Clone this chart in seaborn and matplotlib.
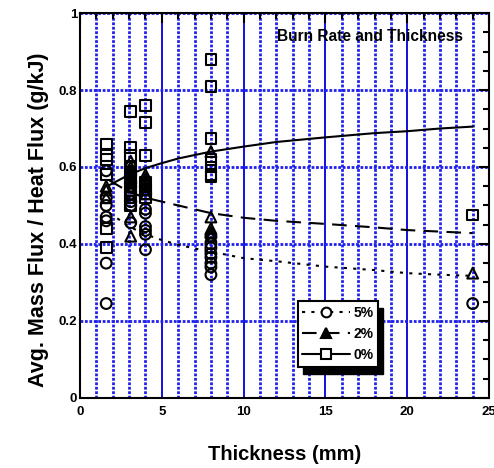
import numpy as np
import pandas as pd
import matplotlib
matplotlib.use("Agg")
import matplotlib.pyplot as plt
from matplotlib.lines import Line2D
from matplotlib.patches import Rectangle
import seaborn as sns

# Measured points (thickness in mm, avg mass flux / heat flux in g/kJ)
thick_5 = [1.6, 1.6, 1.6, 1.6, 1.6, 1.6, 1.6,
           3.1, 3.1, 3.1, 3.1, 3.1, 3.1, 3.1,
           4, 4, 4, 4, 4, 4,
           8, 8, 8, 8, 8, 8, 8, 8,
           24]
flux_5 = [0.59, 0.52, 0.50, 0.47, 0.46, 0.35, 0.245,
          0.58, 0.56, 0.55, 0.53, 0.51, 0.50, 0.455,
          0.49, 0.48, 0.445, 0.435, 0.425, 0.385,
          0.42, 0.40, 0.39, 0.375, 0.365, 0.35, 0.34, 0.32,
          0.245]

thick_2 = [1.6, 1.6, 1.6,
           3.1, 3.1, 3.1, 3.1, 3.1, 3.1, 3.1, 3.1, 3.1, 3.1,
           4, 4, 4, 4, 4, 4,
           8, 8, 8, 8, 8,
           24]
flux_2 = [0.55, 0.54, 0.52,
          0.615, 0.60, 0.59, 0.58, 0.57, 0.56, 0.55, 0.54, 0.47, 0.42,
          0.58, 0.57, 0.56, 0.55, 0.54, 0.53,
          0.64, 0.47, 0.44, 0.43, 0.42,
          0.324]

thick_0 = [1.6, 1.6, 1.6, 1.6, 1.6, 1.6,
           3.1, 3.1, 3.1, 3.1, 3.1, 3.1, 3.1, 3.1,
           4, 4, 4, 4, 4, 4, 4,
           8, 8, 8, 8, 8, 8, 8,
           24]
flux_0 = [0.66, 0.63, 0.62, 0.58, 0.44, 0.39,
          0.745, 0.65, 0.63, 0.60, 0.57, 0.55, 0.52, 0.50,
          0.76, 0.715, 0.63, 0.56, 0.54, 0.53, 0.52,
          0.88, 0.81, 0.675, 0.62, 0.60, 0.58, 0.575,
          0.475]

# Fitted curves
fit_x_5 = [1.8, 2.5, 3, 4, 5, 6, 7, 8, 10, 12, 15, 18, 20, 22, 24]
fit_y_5 = [0.48, 0.46, 0.445, 0.425, 0.41, 0.398, 0.388, 0.38, 0.363, 0.355, 0.341, 0.332, 0.324, 0.32, 0.317]
fit_x_2 = [1.8, 3, 4, 5, 6, 8, 10, 12, 15, 18, 20, 22, 24]
fit_y_2 = [0.565, 0.535, 0.52, 0.51, 0.50, 0.48, 0.468, 0.46, 0.452, 0.443, 0.436, 0.432, 0.428]
fit_x_0 = [1.8, 3, 4, 5, 6, 8, 10, 12, 15, 18, 20, 22, 24]
fit_y_0 = [0.553, 0.58, 0.597, 0.61, 0.622, 0.64, 0.653, 0.665, 0.677, 0.688, 0.693, 0.70, 0.705]

x_ticks = [0, 5, 10, 15, 20, 25]
x_tick_labels = ["0", "5", "10", "15", "20", "25"]
y_ticks = [0, 0.2, 0.4, 0.6, 0.8, 1.0]
y_tick_labels = ["0", "0.2", "0.4", "0.6", "0.8", "1"]

labels = ["5%", "2%", "0%"]
markers = {"5%": "o", "2%": "^", "0%": "s"}
styles = {"5%": (0, (1.5, 3)), "2%": (0, (7, 4)), "0%": "-"}

pts = pd.concat([
    pd.DataFrame({"thickness": thick_5, "flux": flux_5, "series": "5%"}),
    pd.DataFrame({"thickness": thick_2, "flux": flux_2, "series": "2%"}),
    pd.DataFrame({"thickness": thick_0, "flux": flux_0, "series": "0%"}),
])
fits = {"5%": (fit_x_5, fit_y_5), "2%": (fit_x_2, fit_y_2), "0%": (fit_x_0, fit_y_0)}

sns.set_style("white")
plt.rcParams["font.family"] = ["Liberation Sans", "DejaVu Sans"]
plt.rcParams["font.weight"] = "bold"
plt.rcParams["text.color"] = "black"
plt.rcParams["axes.labelcolor"] = "black"
plt.rcParams["xtick.color"] = "black"
plt.rcParams["ytick.color"] = "black"

fig = plt.figure(figsize=(4.94, 4.68), dpi=100)
ax = fig.add_axes([0.162, 0.15, 0.828, 0.822])

# grid
for v in range(1, 25):
    if v % 5 == 0:
        ax.axvline(v, color="#1010dd", lw=1.4, zorder=0)
    else:
        ax.axvline(v, color="#2020ee", lw=2.0, ls=(0, (1, 0.6)), zorder=0)
for h in [0.2, 0.4, 0.6, 0.8, 1.0]:
    ax.axhline(h, color="#2020ee", lw=2.0, ls=(0, (1, 0.6)), zorder=0)

for lab in labels:
    fx, fy = fits[lab]
    sns.lineplot(x=fx, y=fy, ax=ax, color="black", lw=1.5, linestyle=styles[lab], zorder=2)

for lab in labels:
    sub = pts[pts["series"] == lab]
    sns.scatterplot(data=sub, x="thickness", y="flux", ax=ax, marker=markers[lab],
                    s=60, facecolor="none", edgecolor="black", linewidth=1.5, zorder=3)

ax.set_xlim(0, 25)
ax.set_ylim(0, 1)
ax.set_xticks(x_ticks, x_tick_labels)
ax.set_xticks(range(0, 26), minor=True)
ax.set_yticks(y_ticks, y_tick_labels)
ax.set_yticks([i * 0.05 for i in range(21)], minor=True)
ax.tick_params(which="both", direction="in", top=True, right=True, width=1.5, labelsize=9.5)
ax.tick_params(which="major", length=7)
ax.tick_params(which="minor", length=4)
ax.tick_params(axis="x", pad=6)
ax.tick_params(axis="y", pad=2)
for sp in ax.spines.values():
    sp.set_linewidth(1.5)
    sp.set_color("black")

ax.set_xlabel("Thickness (mm)", fontsize=14.5, fontweight="bold", labelpad=19)
ax.set_ylabel("Avg. Mass Flux / Heat Flux (g/kJ)", fontsize=15.5, fontweight="bold")
ax.yaxis.set_label_coords(-0.076, 0.462)
ax.text(0.71, 0.94, "Burn Rate and Thickness", transform=ax.transAxes, ha="center",
        va="center", fontsize=11.2, fontweight="bold")

handles = [
    Line2D([], [], color="black", ls=styles["5%"], lw=1.5, marker="o", mfc="white", mec="black", mew=1.5, ms=7),
    Line2D([], [], color="black", ls=styles["2%"], lw=1.5, marker="^", mfc="black", mec="black", mew=1.5, ms=7),
    Line2D([], [], color="black", ls=styles["0%"], lw=1.5, marker="s", mfc="white", mec="black", mew=1.5, ms=7),
]
leg = ax.legend(handles, labels, loc="lower left", bbox_to_anchor=(0.532, 0.08), fancybox=False,
                framealpha=1, edgecolor="black", fontsize=10, handlelength=3.4,
                handletextpad=0.25, borderpad=0.35, labelspacing=0.5, borderaxespad=0)
leg.get_frame().set_linewidth(1.5)

# thick drop shadow behind the legend box
fig.canvas.draw()
bb = leg.get_window_extent().transformed(ax.transAxes.inverted())
dx = 5 / ax.bbox.width
dy = 7 / ax.bbox.height
ax.add_patch(Rectangle((bb.x0 + dx, bb.y0 - dy), bb.width, bb.height, transform=ax.transAxes,
                       facecolor="black", edgecolor="black", zorder=4.9, clip_on=False))

fig.savefig("out.png", dpi=100)
